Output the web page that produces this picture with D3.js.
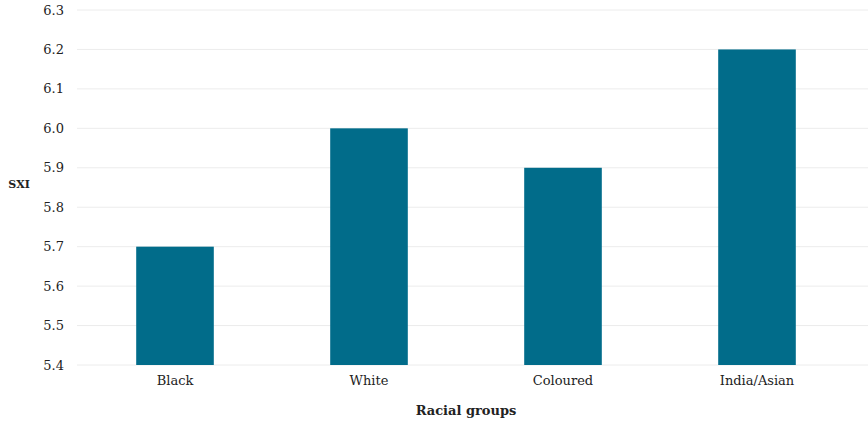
<!DOCTYPE html>
<html><head><meta charset="utf-8">
<script src="https://cdn.jsdelivr.net/npm/d3@7"></script>
<style>body{margin:0;background:#fff}svg{display:block}text{font-family:"DejaVu Serif","Liberation Serif",serif;fill:#222}</style>
</head><body><svg id="c" width="868" height="424"></svg>
<script>
const categories = ["Black","White","Coloured","India/Asian"];
const values = [5.7,6.0,5.9,6.2];
const yTicks = [5.4,5.5,5.6,5.7,5.8,5.9,6.0,6.1,6.2,6.3];

const svg = d3.select("#c");
const x = d3.scaleBand().domain(categories).range([78,854]).paddingInner(0.6).paddingOuter(0.3);
const y = d3.scaleLinear().domain([5.4,6.3]).range([365,10]);

svg.append("g").selectAll("line").data(yTicks).join("line")
  .attr("x1",77).attr("x2",868).attr("y1",d=>y(d)).attr("y2",d=>y(d))
  .attr("stroke","#ececec").attr("stroke-width",1);

svg.append("g").selectAll("text").data(yTicks).join("text")
  .attr("x",64).attr("y",d=>y(d)).attr("dy","0.35em").attr("text-anchor","end")
  .attr("font-size",13).text(d=>d.toFixed(1));

svg.append("g").selectAll("rect").data(values).join("rect")
  .attr("x",(d,i)=>x(categories[i])).attr("width",x.bandwidth())
  .attr("y",d=>y(d)).attr("height",d=>y(5.4)-y(d)).attr("fill","#016c8a");

svg.append("g").selectAll("text").data(categories).join("text")
  .attr("x",d=>x(d)+x.bandwidth()/2).attr("y",385).attr("text-anchor","middle")
  .attr("font-size",13).text(d=>d);

svg.append("text").attr("x",19).attr("y",188).attr("text-anchor","middle")
  .attr("font-size",11).attr("font-weight","bold").text("SXI");
svg.append("text").attr("x",466).attr("y",415).attr("text-anchor","middle")
  .attr("font-size",13).attr("font-weight","bold").text("Racial groups");
</script></body></html>
